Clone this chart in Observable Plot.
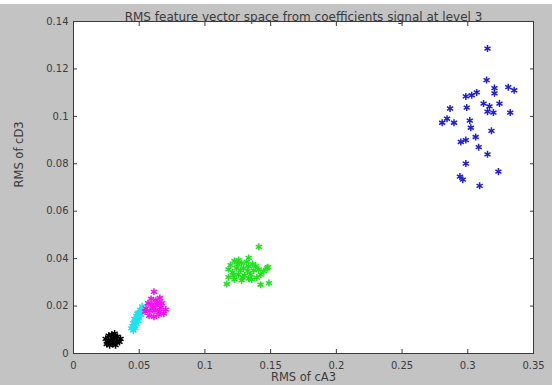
<!DOCTYPE html>
<html><head><meta charset="utf-8">
<script src="https://cdn.jsdelivr.net/npm/d3@7"></script>
<script src="https://cdn.jsdelivr.net/npm/@observablehq/plot@0.6"></script>
<style>
html,body{margin:0;padding:0;background:#fff;}
#strip{height:4px;background:#fff;}
#chart svg{display:block;}
</style></head><body>
<div id="strip"></div>
<div id="chart"></div>
<script>
const titleText = "RMS feature vector space from coefficients signal at level 3";
const xLabel = "RMS of cA3";
const yLabel = "RMS of cD3";
const xTicks = [0, 0.05, 0.1, 0.15, 0.2, 0.25, 0.3, 0.35];
const xTickLabels = ["0", "0.05", "0.1", "0.15", "0.2", "0.25", "0.3", "0.35"];
const yTicks = [0, 0.02, 0.04, 0.06, 0.08, 0.1, 0.12, 0.14];
const yTickLabels = ["0", "0.02", "0.04", "0.06", "0.08", "0.1", "0.12", "0.14"];

const seriesNames = ["class 1", "class 2", "class 3", "class 4", "class 5"];
const seriesColors = ["#000000", "#18e6ee", "#f010f0", "#20e020", "#2222cc"];

// class 1 (black)
const c1X = [0.0245,0.0268,0.0290,0.0313,0.0335,0.0358,0.0260,0.0283,0.0305,0.0328,0.0350,0.0275,0.0298,0.0320,0.0290,0.0313,0.0253];
const c1Y = [0.0062,0.0075,0.0079,0.0084,0.0071,0.0062,0.0049,0.0053,0.0057,0.0049,0.0049,0.0035,0.0040,0.0035,0.0066,0.0071,0.0040];
// class 2 (cyan)
const c2X = [0.0522,0.0507,0.0530,0.0493,0.0515,0.0478,0.0500,0.0470,0.0493,0.0455,0.0478,0.0448,0.0470,0.0455,0.0485,0.0463,0.0507,0.0440];
const c2Y = [0.0199,0.0185,0.0181,0.0172,0.0163,0.0159,0.0150,0.0141,0.0137,0.0128,0.0124,0.0115,0.0106,0.0097,0.0168,0.0146,0.0172,0.0106];
// class 3 (magenta)
const c3X = [0.0612,0.0590,0.0627,0.0657,0.0567,0.0597,0.0635,0.0672,0.0702,0.0552,0.0582,0.0620,0.0657,0.0687,0.0575,0.0612,0.0650,0.0545,0.0665,0.0605,0.0642];
const c3Y = [0.0260,0.0230,0.0225,0.0234,0.0212,0.0208,0.0203,0.0212,0.0185,0.0190,0.0181,0.0181,0.0177,0.0168,0.0159,0.0155,0.0163,0.0177,0.0194,0.0194,0.0216];
// class 4 (green)
const c4X = [0.1410,0.1479,0.1487,0.1423,0.1166,0.1179,0.1333,0.1195,0.1225,0.1256,0.1279,0.1241,0.1295,0.1333,0.1372,0.1410,0.1448,0.1472,0.1210,0.1256,0.1302,0.1348,0.1225,0.1279,0.1333,0.1395,0.1425,0.1179,0.1318,0.1364,0.1271,0.1248,0.1325,0.1387,0.1287,0.1218,0.1356];
const c4Y = [0.0450,0.0364,0.0297,0.0290,0.0293,0.0322,0.0403,0.0373,0.0390,0.0394,0.0381,0.0360,0.0360,0.0368,0.0351,0.0355,0.0347,0.0360,0.0342,0.0333,0.0329,0.0333,0.0312,0.0308,0.0316,0.0320,0.0333,0.0355,0.0386,0.0377,0.0351,0.0377,0.0347,0.0368,0.0320,0.0329,0.0312];
// class 5 (blue)
const c5X = [0.3150,0.3143,0.3203,0.3203,0.3308,0.3353,0.2985,0.3030,0.3068,0.2865,0.2992,0.3120,0.3165,0.3241,0.3150,0.3195,0.3323,0.2805,0.2842,0.2895,0.3015,0.3023,0.3180,0.2947,0.2985,0.3060,0.3083,0.3150,0.2985,0.2940,0.2962,0.3233,0.3090];
const c5Y = [0.1286,0.1153,0.1119,0.1097,0.1123,0.1110,0.1084,0.1089,0.1101,0.1033,0.1037,0.1054,0.1042,0.1054,0.1020,0.1016,0.1016,0.0973,0.0990,0.0973,0.0982,0.0952,0.0939,0.0892,0.0900,0.0913,0.0870,0.0840,0.0801,0.0746,0.0733,0.0767,0.0707];

const groups = [[c1X, c1Y], [c2X, c2Y], [c3X, c3Y], [c4X, c4Y], [c5X, c5Y]];
const rows = [];
groups.forEach(([xs, ys], g) => xs.forEach((x, i) => rows.push({x, y: ys[i], s: seriesNames[g]})));

const fmtX = d => xTickLabels[xTicks.indexOf(d)] ?? "";
const fmtY = d => yTickLabels[yTicks.indexOf(d)] ?? "";
const axisColor = "#3a3a3a";
const textColor = "#3c3c3c";

const chart = Plot.plot({
  width: 552,
  height: 381,
  marginLeft: 73,
  marginRight: 19,
  marginTop: 17,
  marginBottom: 32,
  style: {background: "#c3c3c3", fontFamily: "'DejaVu Sans', Verdana, sans-serif", fontSize: "10px", color: textColor},
  x: {domain: [0, 0.35], label: null},
  y: {domain: [0, 0.14], label: null},
  color: {domain: seriesNames, range: seriesColors},
  marks: [
    Plot.frame({fill: "white", stroke: null}),
    Plot.dot(rows, {x: "x", y: "y", stroke: "s", symbol: "asterisk", r: 3.3, strokeWidth: 1.5}),
    Plot.frame({stroke: axisColor}),
    Plot.axisX({ticks: xTicks, tickFormat: fmtX, tickSize: -4, tickPadding: 12, anchor: "bottom", stroke: axisColor, fill: textColor, label: null}),
    Plot.axisX({ticks: xTicks, tickFormat: () => "", tickSize: -4, anchor: "top", stroke: axisColor, label: null}),
    Plot.axisY({ticks: yTicks, tickFormat: fmtY, tickSize: -4, tickPadding: 9, anchor: "left", stroke: axisColor, fill: textColor, label: null}),
    Plot.axisY({ticks: yTicks, tickFormat: () => "", tickSize: -4, anchor: "right", stroke: axisColor, label: null}),
    Plot.text([titleText], {frameAnchor: "top", dy: -9, fontSize: 12, fill: textColor}),
    Plot.text([xLabel], {frameAnchor: "bottom", dy: 27, fontSize: 11.5, fill: textColor}),
    Plot.text([yLabel], {frameAnchor: "left", dx: -54, rotate: -90, fontSize: 11.5, fill: textColor})
  ]
});
document.getElementById("chart").appendChild(chart);
</script>
</body></html>
